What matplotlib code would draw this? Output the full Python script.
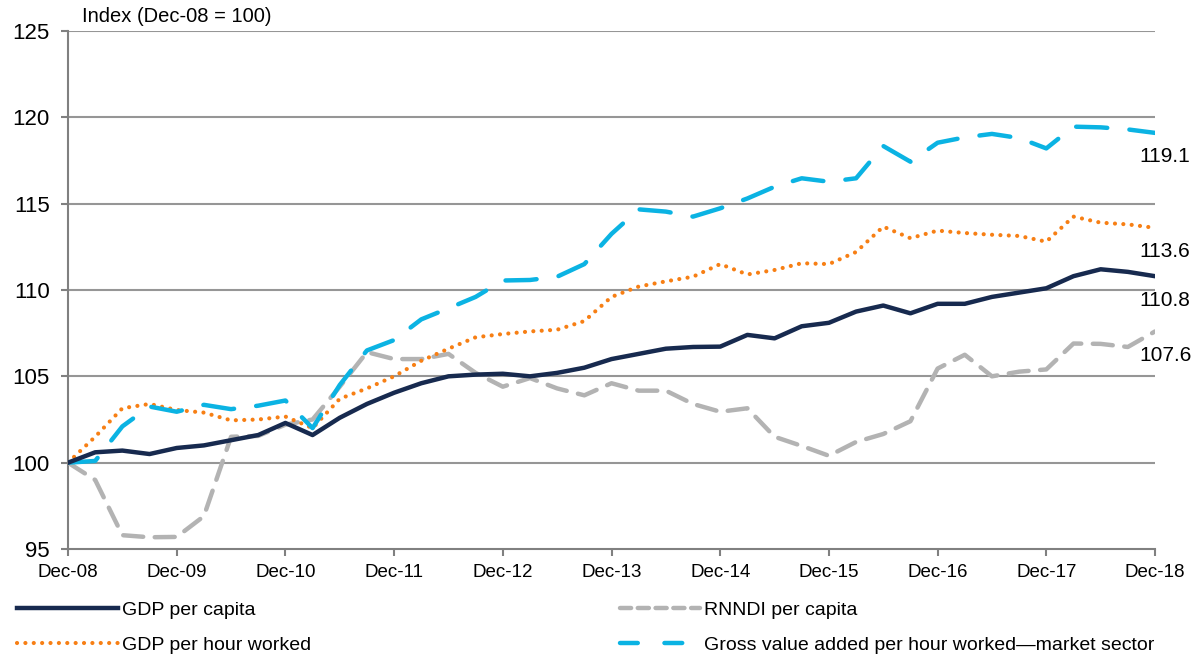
import numpy as np
import matplotlib.pyplot as plt
from matplotlib.lines import Line2D

# Quarterly index values, Dec-08 = 100
gdp_per_capita = [100.0, 100.6, 100.7, 100.5, 100.85, 101.0, 101.3, 101.6, 102.3, 101.6,
                  102.6, 103.4, 104.05, 104.6, 105.0, 105.1, 105.15, 105.0, 105.2, 105.5,
                  106.0, 106.3, 106.6, 106.7, 106.72, 107.4, 107.2, 107.9, 108.1, 108.75,
                  109.1, 108.65, 109.2, 109.2, 109.6, 109.85, 110.1, 110.8, 111.2, 111.05, 110.8]
gdp_per_hour = [100.0, 101.5, 103.15, 103.4, 103.05, 102.9, 102.45, 102.5, 102.67, 102.0,
                103.7, 104.3, 105.0, 105.9, 106.6, 107.26, 107.45, 107.6, 107.7, 108.2,
                109.6, 110.2, 110.5, 110.77, 111.5, 110.9, 111.16, 111.55, 111.5, 112.2,
                113.67, 113.0, 113.44, 113.3, 113.2, 113.13, 112.8, 114.25, 113.9, 113.8, 113.6]
rnndi_per_capita = [100.0, 99.0, 95.8, 95.68, 95.7, 96.9, 101.5, 101.55, 102.2, 102.5,
                    104.4, 106.4, 106.0, 106.0, 106.3, 105.2, 104.4, 104.9, 104.3, 103.9,
                    104.6, 104.17, 104.17, 103.4, 102.95, 103.15, 101.5, 100.97, 100.4, 101.2,
                    101.66, 102.4, 105.45, 106.25, 105.0, 105.27, 105.4, 106.9, 106.88, 106.7, 107.6]
gva_per_hour = [100.0, 100.1, 102.1, 103.25, 102.95, 103.35, 103.1, 103.3, 103.6, 102.0,
                104.5, 106.5, 107.1, 108.3, 108.94, 109.6, 110.55, 110.58, 110.77, 111.5,
                113.25, 114.67, 114.54, 114.25, 114.73, 115.3, 115.98, 116.47, 116.27, 116.47,
                118.34, 117.43, 118.53, 118.84, 119.04, 118.8, 118.2, 119.46, 119.42, 119.3, 119.1]
year_labels = ["Dec-08", "Dec-09", "Dec-10", "Dec-11", "Dec-12", "Dec-13",
               "Dec-14", "Dec-15", "Dec-16", "Dec-17", "Dec-18"]
end_labels = ["110.8", "113.6", "107.6", "119.1"]

plt.rcParams["font.family"] = ["Liberation Sans", "DejaVu Sans"]

navy = "#172a4f"
orange = "#f77f14"
grey = "#b3b3b3"
cyan = "#0bb3e3"

fig = plt.figure(figsize=(12.03, 6.57), dpi=100)
ax = fig.add_axes([68/1203, 1 - 549/657, (1155 - 68)/1203, (549 - 31)/657])

x = np.arange(len(gdp_per_capita))

ax.plot(x, gdp_per_capita, color=navy, lw=3.2, solid_joinstyle="round", zorder=5)
ax.plot(x, rnndi_per_capita, color=grey, lw=3.2, linestyle=(0, (4.5, 2.6)),
        dash_capstyle="round", zorder=3)
ax.plot(x, gdp_per_hour, color=orange, lw=3.0, linestyle=(0, (0.01, 2.0)),
        dash_capstyle="round", zorder=4)
ax.plot(x, gva_per_hour, color=cyan, lw=3.2, linestyle=(0, (7, 5)),
        dash_capstyle="round", zorder=4)

# End-of-series labels
series = [gdp_per_capita, gdp_per_hour, rnndi_per_capita, gva_per_hour]
for vals, lab in zip(series, end_labels):
    ax.annotate(lab, xy=(x[-1], vals[-1]), xytext=(-16, -24), textcoords="offset pixels",
                ha="left", va="center", fontsize=15, annotation_clip=False)

ax.set_xlim(0, 40)
ax.set_ylim(95, 125)
ax.set_yticks([95, 100, 105, 110, 115, 120, 125])
ax.set_xticks(np.arange(0, 41, 4))
ax.set_xticklabels(year_labels)
ax.tick_params(axis="y", labelsize=16, length=5, color="#808080", width=1.5, pad=8)
ax.tick_params(axis="x", labelsize=13.5, length=5, color="#808080", width=1.5, pad=6)

for yv in [100, 105, 110, 115, 120, 125]:
    ax.axhline(yv, color="#969696", lw=1.5, zorder=1)

for side in ["top", "right"]:
    ax.spines[side].set_visible(False)
for side in ["left", "bottom"]:
    ax.spines[side].set_color("#808080")
    ax.spines[side].set_linewidth(1.5)

ax.text(14/1087, 1.01, "Index (Dec-08 = 100)", transform=ax.transAxes,
        fontsize=14.5, ha="left", va="bottom")

# Legend: two columns placed separately
left_handles = [
    Line2D([], [], color=navy, lw=3.2),
    Line2D([], [], color=orange, lw=3.0, linestyle=(0, (0.01, 2.0)), dash_capstyle="round"),
]
right_handles = [
    Line2D([], [], color=grey, lw=3.2, linestyle=(0, (2.5, 1.5)), dash_capstyle="round"),
    Line2D([], [], color=cyan, lw=3.2, linestyle=(0, (4, 6)), dash_capstyle="round"),
]
left_labels = ["GDP per capita", "GDP per hour worked"]
right_labels = ["RNNDI per capita", "Gross value added per hour worked\u2014market sector"]

leg_kw = dict(loc="upper left", frameon=False, fontsize=14, handletextpad=0.2,
              labelspacing=0.9, borderaxespad=0, borderpad=0)
fig.legend(left_handles, left_labels, bbox_to_anchor=(17/1203, 1 - 601/657),
           handlelength=5.2, **leg_kw)
fig.legend(right_handles, right_labels, bbox_to_anchor=(620/1203, 1 - 601/657),
           handlelength=4.1, **leg_kw)

fig.savefig("out.png", dpi=100)
